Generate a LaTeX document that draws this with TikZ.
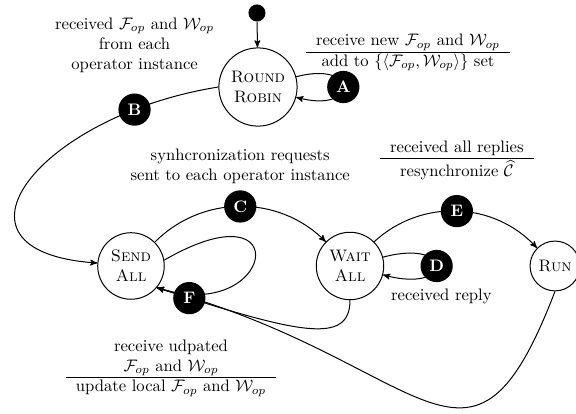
\documentclass[tikz,border=0pt]{standalone}
\usetikzlibrary{arrows,positioning}
\tikzset{
  state/.style={circle, draw, align=center},
  lbl/.style={circle, fill=black, text=white, font=\bfseries, minimum size=0.68cm, inner sep=0pt},
  startdot/.style={circle, fill=black, minimum size=0.36cm, inner sep=0pt},
}
\begin{document}
\begin{tikzpicture}[>=stealth', semithick]
  \useasboundingbox (0,0) rectangle (12.146,8.730);
  % states
  \node[startdot] (start) at (5.419,8.456) {};
  \node[state] (rr) at (5.440,6.895) {\textsc{Round}\\\textsc{Robin}};
  \node[state] (send) at (2.762,3.121) {\textsc{Send}\\\textsc{All}};
  \node[state] (wait) at (7.380,3.121) {\textsc{Wait}\\\textsc{All}};
  \node[state] (run) at (11.703,3.121) {\textsc{Run}};

  % transitions
  \draw[->] (start) -- (rr);
  \draw[->] (rr.15) .. controls +(15:1.37) and +(-15:1.37) .. node[lbl] (A) {A} (rr.-15);
  \draw[->] (rr.west) .. controls +(189:3.8) and +(176:3.52) .. node[lbl, pos=0.17] (B) {B} (send.175);
  \draw[->] (send) to[bend left=45] node[lbl] (C) {C} (wait);
  \draw[->] (wait.15) .. controls +(15:1.56) and +(-15:1.56) .. node[lbl] (D) {D} (wait.-15);
  \draw[->] (wait) to[bend left=45] node[lbl] (E) {E} (run);
  \draw[->] (send.10) .. controls +(30:3.29) and +(-18:2.59) .. (send.-40);
  \draw[->] (run.south) .. controls +(-111:5.06) and +(-15:5.9) .. (send.-40);
  \draw[->] (wait.south) .. controls +(-90:0.95) and +(-18:3.16) .. node[lbl, pos=0.92] (F) {F} (send.-40);

  % labels
  \node (lblA) at (8.603,7.633) {\begin{tabular}{c}
      receive new $\mathcal{F}_{op}$ and $\mathcal{W}_{op}$\\ \hline
      add to $\{\langle\mathcal{F}_{op},\mathcal{W}_{op}\rangle\}$ set
    \end{tabular}};
  \node[align=center, above=3mm of B] (lblB) {received $\mathcal{F}_{op}$ and $\mathcal{W}_{op}$\\from each\\operator instance};
  \node[align=center, above=0pt of C] (lblC) {synhcronization requests\\sent to each operator instance};
  \node[below=0pt of D, xshift=1mm] (lblD) {received reply};
  \node[above=1.3mm of E] (lblE) {\begin{tabular}{c}
      received all replies\\ \hline
      \rule{0pt}{10.5pt}resynchronize $\widehat{\mathcal{C}}$
    \end{tabular}};
  \node (lblF) at (3.606,0.981) {\begin{tabular}{c}
      receive udpated\\
      $\mathcal{F}_{op}$ and $\mathcal{W}_{op}$\\ \hline
      update local $\mathcal{F}_{op}$ and $\mathcal{W}_{op}$
    \end{tabular}};
\end{tikzpicture}
\end{document}
